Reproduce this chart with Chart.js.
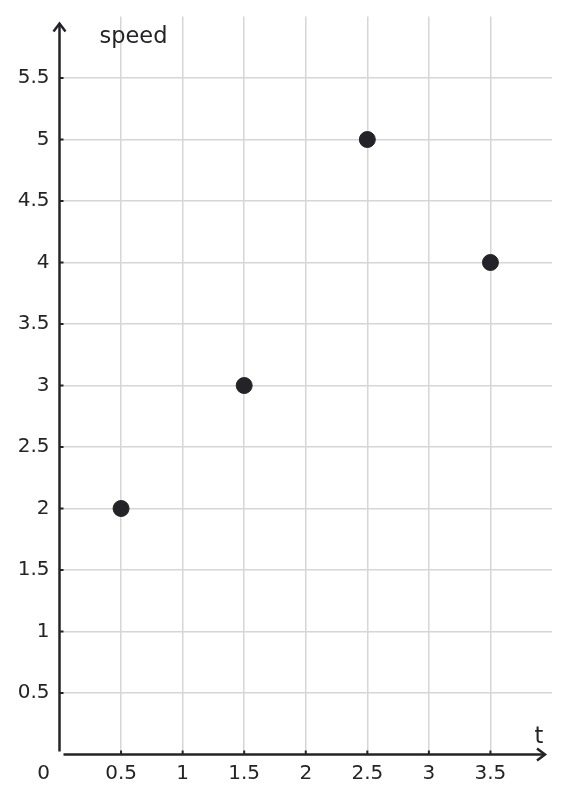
<!DOCTYPE html>
<html>
<head>
<meta charset="utf-8">
<script src="https://cdn.jsdelivr.net/npm/chart.js@4.4.1/dist/chart.umd.min.js"></script>
<style>
  html, body { margin: 0; padding: 0; background: #ffffff; }
  #wrap { width: 569px; height: 803px; }
</style>
</head>
<body>
<div id="wrap"><canvas id="speedChart"></canvas></div>
<script>
// values
const times = [0.5, 1.5, 2.5, 3.5];
const speeds = [2, 3, 5, 4];
const xMax = 4;
const yMax = 6;
const tickStep = 0.5;
const xTitle = "t";
const yTitle = "speed";

const ink = "#242428";

// Draws the arrowed axes, small tick marks, origin label and axis titles
const axesPlugin = {
    id: "arrowAxes",
    afterDraw(chart) {
        const { ctx } = chart;
        const x = chart.scales.x;
        const y = chart.scales.y;
        const x0 = x.getPixelForValue(0);
        const y0 = y.getPixelForValue(0);

        ctx.save();
        ctx.strokeStyle = ink;
        ctx.lineWidth = 2.5;
        ctx.lineCap = "butt";

        // y axis
        ctx.beginPath();
        ctx.moveTo(x0, y0 - 3);
        ctx.lineTo(x0, chart.chartArea.top + 7);
        ctx.stroke();
        // x axis
        ctx.beginPath();
        ctx.moveTo(x0 + 4, y0);
        ctx.lineTo(chart.chartArea.right - 7, y0);
        ctx.stroke();

        // arrow heads
        ctx.lineJoin = "miter";
        ctx.beginPath();
        ctx.moveTo(x0 - 6, chart.chartArea.top + 15);
        ctx.lineTo(x0, chart.chartArea.top + 7);
        ctx.lineTo(x0 + 6, chart.chartArea.top + 15);
        ctx.stroke();
        ctx.beginPath();
        ctx.moveTo(chart.chartArea.right - 15, y0 - 6);
        ctx.lineTo(chart.chartArea.right - 7, y0);
        ctx.lineTo(chart.chartArea.right - 15, y0 + 6);
        ctx.stroke();

        // little tick marks on the inside of the axes
        ctx.lineWidth = 2;
        x.ticks.forEach(t => {
            if (t.value <= 0 || t.value >= xMax) return;
            const px = x.getPixelForValue(t.value);
            ctx.beginPath();
            ctx.moveTo(px, y0);
            ctx.lineTo(px, y0 - 4);
            ctx.stroke();
        });
        y.ticks.forEach(t => {
            if (t.value <= 0 || t.value >= yMax) return;
            const py = y.getPixelForValue(t.value);
            ctx.beginPath();
            ctx.moveTo(x0, py);
            ctx.lineTo(x0 + 4, py);
            ctx.stroke();
        });

        // origin label and titles
        ctx.fillStyle = ink;
        ctx.font = "20px 'DejaVu Sans'";
        ctx.textAlign = "center";
        ctx.textBaseline = "middle";
        ctx.fillText("0", x0 - 16, y0 + 19);

        ctx.font = "22.5px 'DejaVu Sans'";
        ctx.textAlign = "left";
        ctx.textBaseline = "alphabetic";
        ctx.fillText(yTitle, x0 + 40, chart.chartArea.top + 26.5);
        ctx.textAlign = "center";
        ctx.fillText(xTitle, chart.chartArea.right - 13, y0 - 12);
        ctx.restore();
    }
};

const gridColor = (limit) => (c) =>
    (c.tick && (c.tick.value >= limit || c.tick.value <= 0)) ? "rgba(0,0,0,0)" : "#d6d6d6";

new Chart(document.getElementById("speedChart"), {
    type: "scatter",
    data: {
        datasets: [{
            data: times.map((t, i) => ({ x: t, y: speeds[i] })),
            backgroundColor: ink,
            borderColor: ink,
            pointRadius: 8,
            pointHoverRadius: 8
        }]
    },
    options: {
        responsive: true,
        maintainAspectRatio: false,
        animation: false,
        layout: { padding: { top: 16.5, right: 17, left: 0, bottom: 0 } },
        plugins: { legend: { display: false }, tooltip: { enabled: false } },
        scales: {
            x: {
                type: "linear",
                min: 0,
                max: xMax,
                border: { display: false },
                grid: { color: gridColor(xMax), lineWidth: 1.5, drawTicks: false },
                ticks: {
                    stepSize: tickStep,
                    padding: 7,
                    color: ink,
                    font: { family: "DejaVu Sans", size: 20 },
                    maxRotation: 0,
                    callback: v => (v <= 0 || v >= xMax) ? "" : String(v)
                },
                afterFit: scale => {
                    scale.height = 48.5;
                    scale.paddingLeft = 0;
                    scale.paddingRight = 0;
                }
            },
            y: {
                type: "linear",
                min: 0,
                max: yMax,
                border: { display: false },
                grid: { color: gridColor(yMax), lineWidth: 1.5, drawTicks: false },
                ticks: {
                    stepSize: tickStep,
                    padding: 10,
                    color: ink,
                    font: { family: "DejaVu Sans", size: 20 },
                    callback: v => (v <= 0 || v >= yMax) ? "" : String(v)
                },
                afterFit: scale => {
                    scale.width = 59.5;
                    scale.paddingTop = 0;
                    scale.paddingBottom = 0;
                }
            }
        }
    },
    plugins: [axesPlugin]
});
</script>
</body>
</html>
